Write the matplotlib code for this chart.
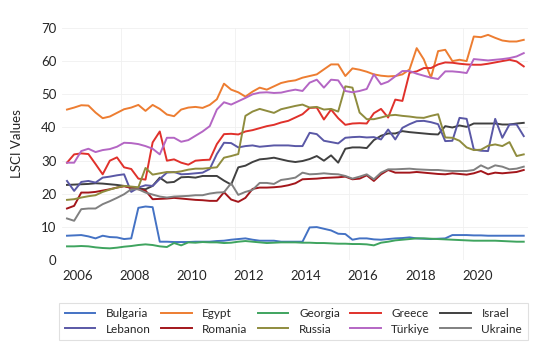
import numpy as np
import matplotlib
matplotlib.use("Agg")
import matplotlib.pyplot as plt

plt.rcParams['font.family'] = ['Lato', 'DejaVu Sans']

# quarterly LSCI values, 2006 Q1 .. 2022 Q1
bulgaria = [7.4, 7.5, 7.6, 7.2, 6.6, 7.4, 7.0, 6.9, 6.4, 6.6, 15.8, 16.2, 16.0, 5.6, 5.6, 5.5,
            5.5, 5.5, 5.6, 5.6, 5.6, 5.8, 5.9, 6.2, 6.4, 6.6, 6.2, 5.9, 5.9, 5.9, 5.6, 5.6, 5.6, 5.6,
            9.9, 10.0, 9.5, 9.0, 8.0, 7.9, 6.2, 6.6, 6.6, 6.3, 6.2, 6.4,
            6.6, 6.7, 6.9, 6.6, 6.5, 6.4, 6.5, 6.6, 7.6, 7.6, 7.6, 7.5, 7.5, 7.4, 7.4, 7.4, 7.4, 7.4, 7.4]
egypt = [45.4, 46.0, 46.7, 46.6, 44.5, 42.8, 43.3, 44.4, 45.5, 46.0, 46.8, 45.0, 46.8, 45.6, 43.9, 43.4,
         45.4, 46.0, 46.2, 45.9, 46.8, 48.5, 53.2, 51.4, 50.6, 49.3, 50.8, 52.0, 51.4, 52.4, 53.4, 53.9, 54.2,
         55.0, 55.5, 56.0, 57.5, 59.0, 59.0, 55.5, 57.8, 57.4, 56.8, 56.0, 55.6, 55.4,
         55.5, 56.0, 57.5, 63.9, 60.5, 55.0, 63.0, 63.4, 60.0, 60.4, 60.0, 67.4, 67.2, 67.9, 67.0, 66.2, 65.9, 65.9, 66.4]
georgia = [4.2, 4.2, 4.3, 4.2, 3.9, 3.7, 3.6, 3.8, 4.1, 4.3, 4.6, 4.8, 4.6, 4.2, 4.0, 5.2,
           4.5, 5.4, 5.3, 5.5, 5.4, 5.4, 5.2, 5.3, 5.6, 5.8, 5.6, 5.4, 5.2, 5.3, 5.4, 5.4, 5.4, 5.3,
           5.3, 5.2, 5.2, 5.1, 5.0, 5.0, 4.9, 4.9, 4.8, 4.5, 5.3, 5.6,
           6.0, 6.2, 6.4, 6.6, 6.6, 6.5, 6.4, 6.3, 6.2, 6.1, 6.0, 5.9, 5.9, 5.9, 5.9, 5.8, 5.7, 5.6, 5.6]
greece = [29.4, 31.9, 32.2, 32.0, 29.0, 25.9, 30.0, 31.0, 28.0, 27.5, 24.6, 24.3, 35.5, 38.8, 30.0, 30.4,
          29.4, 28.8, 30.0, 30.2, 30.3, 35.0, 38.0, 38.1, 37.9, 38.8, 39.2, 39.8, 40.4, 40.8, 41.5, 42.0, 43.0,
          44.0, 45.9, 46.0, 42.4, 45.4, 42.8, 40.8, 41.2, 41.3, 41.2, 44.3, 45.6, 43.0,
          48.4, 48.0, 56.5, 56.9, 57.9, 57.9, 59.0, 59.6, 59.5, 59.2, 59.0, 58.9, 58.9, 59.2, 59.6, 60.0, 60.4, 59.9, 58.4]
israel = [22.7, 22.8, 22.9, 23.0, 23.2, 23.1, 22.9, 22.7, 22.4, 22.0, 21.6, 21.4, 22.4, 24.9, 23.4, 23.6,
          25.0, 25.1, 24.9, 25.4, 25.4, 25.4, 24.0, 22.8, 28.0, 28.5, 29.6, 30.4, 30.6, 30.9, 30.4, 29.9, 29.6,
          29.9, 30.5, 31.4, 30.0, 31.6, 29.4, 33.6, 34.0, 34.0, 33.8, 36.2, 37.5, 38.2,
          38.2, 38.9, 38.6, 38.4, 38.2, 38.0, 37.9, 40.4, 40.0, 40.6, 40.2, 41.2, 41.2, 41.2, 41.2, 40.9, 40.9, 41.2, 41.4]
lebanon = [23.9, 20.9, 23.6, 23.9, 23.4, 24.9, 25.2, 25.6, 25.9, 20.6, 21.9, 22.6, 22.4, 24.5, 26.4, 26.6,
           25.9, 26.0, 26.2, 26.4, 27.5, 32.0, 35.4, 35.3, 34.0, 34.4, 34.6, 34.2, 34.4, 34.6, 34.6, 34.6, 34.4,
           34.4, 38.4, 38.0, 36.0, 35.6, 35.2, 36.9, 37.1, 37.2, 37.0, 37.1, 36.4, 39.4,
           36.4, 39.9, 41.0, 41.9, 42.0, 41.6, 41.0, 35.9, 36.0, 42.9, 42.6, 33.4, 33.0, 32.9, 42.6, 36.9, 40.9, 40.9, 37.4]
romania = [15.6, 16.4, 20.4, 20.4, 20.6, 21.0, 21.4, 21.9, 22.3, 21.8, 21.4, 21.0, 18.4, 18.5, 18.6, 18.8,
           18.6, 18.4, 18.2, 18.1, 17.9, 17.9, 20.5, 18.3, 17.6, 18.8, 21.5, 21.9, 21.9, 22.0, 22.2, 22.6, 23.2,
           24.4, 24.5, 24.6, 24.8, 24.9, 25.0, 25.2, 24.4, 24.6, 25.6, 23.9, 25.9, 27.2,
           26.4, 26.4, 26.4, 26.6, 26.4, 26.2, 26.0, 25.9, 26.2, 26.0, 25.8, 26.2, 26.9, 25.9, 26.4, 26.2, 26.4, 26.6, 27.2]
russia = [18.2, 18.4, 18.9, 19.3, 19.6, 20.6, 21.3, 21.9, 22.4, 22.2, 22.0, 27.8, 25.8, 26.2, 26.6, 26.5,
          26.8, 27.3, 27.6, 27.6, 27.8, 28.0, 30.9, 31.4, 32.0, 43.5, 44.8, 45.6, 45.0, 44.4, 45.5, 46.0, 46.5,
          46.9, 46.0, 46.2, 45.4, 45.6, 44.8, 52.4, 52.0, 44.5, 42.5, 42.5, 43.0, 43.6,
          43.8, 43.5, 43.3, 43.0, 42.9, 43.5, 44.0, 37.0, 36.9, 36.0, 34.0, 33.2, 33.3, 34.5, 34.9, 34.4, 35.6, 31.4, 31.9]
turkiye = [29.4, 29.4, 32.9, 33.6, 32.6, 33.2, 33.5, 34.2, 35.4, 35.3, 35.0, 34.4, 33.6, 31.9, 36.9, 36.9,
           35.7, 36.2, 37.5, 38.8, 40.4, 45.4, 47.6, 46.9, 47.9, 48.9, 50.0, 50.5, 50.6, 50.4, 50.5, 51.0, 51.4,
           51.0, 53.5, 54.4, 52.0, 54.4, 54.2, 51.0, 50.6, 51.0, 51.6, 56.0, 53.0, 53.8,
           55.4, 57.0, 57.0, 56.2, 55.6, 55.0, 54.6, 56.9, 56.9, 56.7, 56.4, 60.6, 60.4, 60.2, 60.4, 60.6, 60.9, 61.4, 62.4]
ukraine = [12.6, 11.9, 15.4, 15.6, 15.6, 16.9, 17.8, 18.8, 19.9, 21.4, 21.4, 20.4, 19.8, 19.2, 18.9, 19.2,
           19.3, 19.4, 19.6, 19.6, 20.1, 20.4, 20.5, 23.2, 19.7, 20.6, 21.2, 23.3, 23.3, 23.0, 24.2, 24.5, 24.9,
           26.4, 25.9, 26.0, 26.2, 26.0, 25.9, 25.4, 24.6, 25.2, 25.9, 24.4, 26.4, 27.4,
           27.4, 27.5, 27.6, 27.4, 27.3, 27.2, 27.2, 27.0, 26.9, 26.9, 26.9, 27.2, 28.6, 27.6, 28.6, 28.2, 27.4, 27.6, 28.2]

names = ['Bulgaria', 'Egypt', 'Georgia', 'Greece', 'Israel',
         'Lebanon', 'Romania', 'Russia', 'Türkiye', 'Ukraine']
series = [bulgaria, egypt, georgia, greece, israel, lebanon, romania, russia, turkiye, ukraine]
colors = ['#4472c4', '#ed7d31', '#3fa45f', '#e0312b', '#404040',
          '#5a58a6', '#a3161b', '#8f8c3e', '#b466c4', '#808080']

first_year = 2006
tick_years = list(range(2006, 2021, 2))
grid_years = [2008, 2012, 2016, 2020]

fig = plt.figure(figsize=(5.41, 3.46), dpi=100)
ax = fig.add_axes([0.1146, 0.2477, 0.8614, 0.6717])

lines = {}
for name, vals, c in zip(names, series, colors):
    x = np.arange(len(vals))
    lines[name], = ax.plot(x, vals, color=c, lw=1.4, label=name)

ax.set_xlim(-0.7, 64.6)
ax.set_ylim(0, 70)
ax.set_yticks(range(0, 71, 10))
ax.set_xticks([(y - first_year) * 4 + 1.5 for y in tick_years])
ax.set_xticklabels([str(y) for y in tick_years])
ax.set_xticks([(y - first_year) * 4 - 0.5 for y in grid_years], minor=True)
ax.tick_params(axis='both', length=0, labelsize=9.5, colors='#262626')
ax.tick_params(axis='x', pad=7)
ax.tick_params(axis='y', pad=4)
ax.tick_params(axis='x', which='minor', length=0)
ax.grid(axis='y', color='#f0f0f0', lw=0.6)
ax.grid(axis='x', which='minor', color='#f0f0f0', lw=0.6)
ax.set_axisbelow(True)
for s in ax.spines.values():
    s.set_visible(False)

fig.text(0.031, 0.585, 'LSCI Values', rotation=90, va='center', ha='center',
         fontsize=9.5, color='#262626')

# rows: first five names on top row, the rest below
order = [0, 5, 1, 6, 2, 7, 3, 8, 4, 9]
handles = [lines[names[i]] for i in order]
labels = [names[i] for i in order]
leg = fig.legend(handles, labels, loc='center', bbox_to_anchor=(0.5425, 0.0708),
                 ncol=5, fontsize=8.5, frameon=True, fancybox=False,
                 handlelength=2.6, handletextpad=0.9, columnspacing=0.85,
                 labelspacing=0.35, borderpad=0.5)
leg.get_frame().set_edgecolor('#d9d9d9')
leg.get_frame().set_linewidth(0.8)
for t in leg.get_texts():
    t.set_color('#262626')

fig.savefig('out.png', dpi=100)
